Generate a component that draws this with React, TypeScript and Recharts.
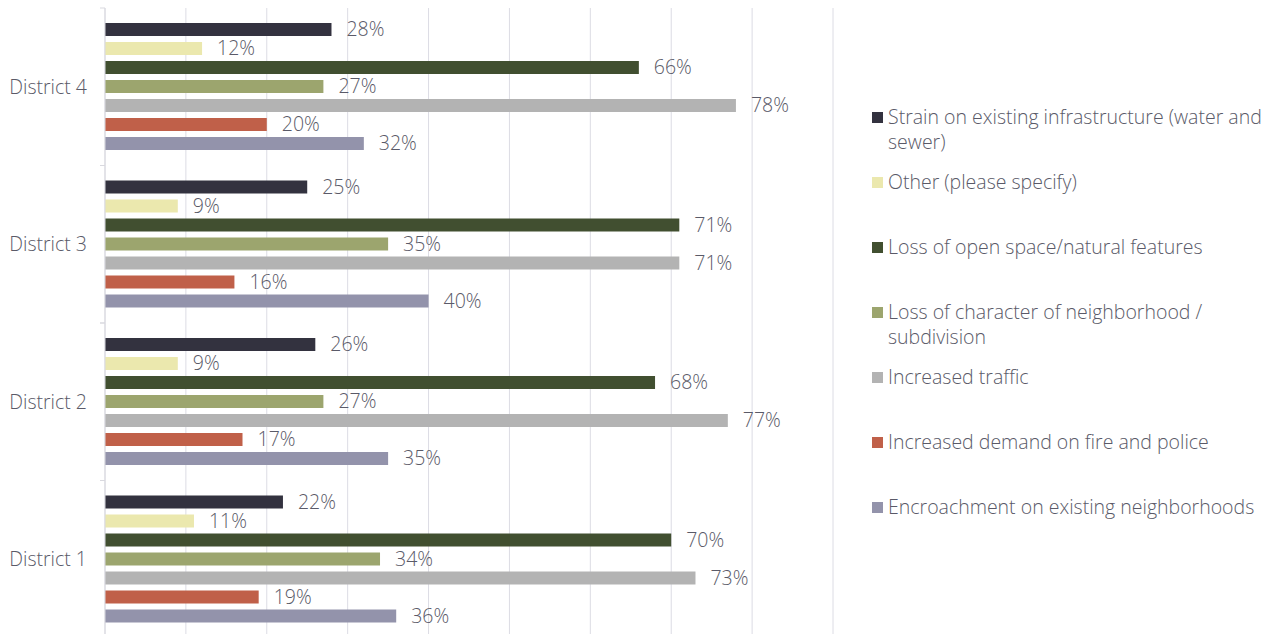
import { Bar, BarChart, CartesianGrid, LabelList, XAxis, YAxis } from 'recharts';

const districts = ['District 1', 'District 2', 'District 3', 'District 4'];

const strain = [22, 26, 25, 28];
const other = [11, 9, 9, 12];
const openSpace = [70, 68, 71, 66];
const character = [34, 27, 35, 27];
const traffic = [73, 77, 71, 78];
const firePolice = [19, 17, 16, 20];
const encroachment = [36, 35, 40, 32];

const xTicks = [0, 10, 20, 30, 40, 50, 60, 70, 80, 90];

const series = [
  { key: 'strain', name: 'Strain on existing infrastructure (water and sewer)', color: '#33323f', values: strain },
  { key: 'other', name: 'Other (please specify)', color: '#ebe8ae', values: other },
  { key: 'openSpace', name: 'Loss of open space/natural features', color: '#414f30', values: openSpace },
  { key: 'character', name: 'Loss of character of neighborhood / subdivision', color: '#9ca56e', values: character },
  { key: 'traffic', name: 'Increased traffic', color: '#b3b3b3', values: traffic },
  { key: 'firePolice', name: 'Increased demand on fire and police', color: '#c06049', values: firePolice },
  { key: 'encroachment', name: 'Encroachment on existing neighborhoods', color: '#9393ab', values: encroachment }
];

const data = districts.map((district, i) => {
  const row: Record<string, string | number> = { district };
  series.forEach((s) => {
    row[s.key] = s.values[i];
  });
  return row;
});

const textColor = '#5a5a68';
const fontFamily = '"Open Sans", "Noto Sans", sans-serif';
const fontSize = 19.5;

function DistrictTick(props: any) {
  const { x, y, payload } = props;
  const axisX = x + 18;
  const half = payload.offset || 0;
  return (
    <g>
      <text x={x} y={y} dy={7} textAnchor="end" fill={textColor} fontSize={fontSize} fontWeight={300} fontFamily={fontFamily}>
        {payload.value}
      </text>
      <line x1={axisX - 5} x2={axisX} y1={y - half} y2={y - half} stroke="#d9d9df" />
      <line x1={axisX - 5} x2={axisX} y1={y + half} y2={y + half} stroke="#d9d9df" />
    </g>
  );
}

export default function App() {
  return (
    <div style={{ position: 'absolute', left: 0, top: 0, width: 1273, height: 634, overflow: 'hidden', background: '#fff', fontFamily }}>
      <BarChart
        width={1273}
        height={640}
        data={data}
        layout="vertical"
        margin={{ top: 8, right: 440, bottom: 2, left: 0 }}
        barSize={13}
        barGap={6}
      >
        <CartesianGrid horizontal={false} vertical stroke="#dcdce4" />
        <XAxis type="number" domain={[0, 90]} ticks={xTicks} hide />
        <YAxis
          type="category"
          dataKey="district"
          reversed
          width={105}
          axisLine={{ stroke: '#d9d9df' }}
          tickLine={false}
          tickSize={6}
          tickMargin={12}
          tick={<DistrictTick />}
        />
        {series.map((s) => (
          <Bar key={s.key} dataKey={s.key} name={s.name} fill={s.color} isAnimationActive={false}>
            <LabelList
              dataKey={s.key}
              position="right"
              offset={15}
              formatter={(v: any) => `${v}%`}
              style={{ fill: textColor, fontSize, fontWeight: 300, fontFamily }}
            />
          </Bar>
        ))}
      </BarChart>
      <div style={{ position: 'absolute', left: 872, top: 104, width: 398 }}>
        {series.map((s) => (
          <div key={s.key} style={{ height: 65, display: 'flex', alignItems: 'flex-start' }}>
            <span style={{ width: 11, height: 11, marginTop: 8, marginRight: 5, flexShrink: 0, background: s.color }} />
            <span style={{ fontSize, lineHeight: '25px', fontWeight: 300, color: textColor }}>{s.name}</span>
          </div>
        ))}
      </div>
    </div>
  );
}
